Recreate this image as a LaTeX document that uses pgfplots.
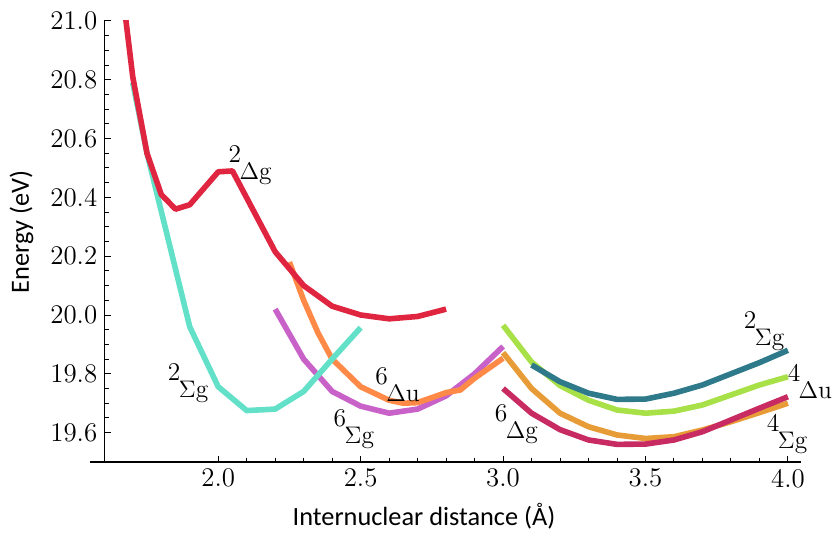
\documentclass[border=0pt]{standalone}
\usepackage{fontspec}
\newfontfamily\labelfont{Carlito}
\usepackage{pgfplots}
\pgfplotsset{compat=1.18}
\definecolor{cRed}{HTML}{E02540}
\definecolor{cCyan}{HTML}{62E0C8}
\definecolor{cOrA}{HTML}{FF8A48}
\definecolor{cMag}{HTML}{C862C8}
\definecolor{cGrn}{HTML}{A8E048}
\definecolor{cTeal}{HTML}{2F7A8A}
\definecolor{cOrB}{HTML}{E89C38}
\definecolor{cCrim}{HTML}{C82A62}
\newcommand{\lab}[2]{#1\kern-0.06em\raisebox{-0.66em}{#2}}
\begin{document}
\begin{tikzpicture}
\begin{axis}[
  scale only axis,
  width=348.5bp, height=220.5bp,
  xmin=1.6, xmax=4.047, ymin=19.5, ymax=21.0,
  axis x line*=bottom, axis y line*=left,
  axis line style={-, line width=0.6bp},
  xtick={2.0,2.5,3.0,3.5,4.0},
  ytick={19.6,19.8,20.0,20.2,20.4,20.6,20.8,21.0},
  minor x tick num=4, minor y tick num=3,
  tick align=inside,
  major tick length=3.2bp, minor tick length=2.2bp,
  tick style={line width=0.5bp, black},
  xticklabel style={/pgf/number format/.cd, fixed, precision=1, fixed zerofill, assume math mode=true},
  yticklabel style={/pgf/number format/.cd, fixed, precision=1, fixed zerofill, assume math mode=true},
  ticklabel style={font=\rmfamily\fontsize{13.5}{15}\selectfont},
  clip mode=individual,
  every axis plot/.append style={line width=2.8bp, line join=round},
]
\coordinate (BL) at (rel axis cs:-0.1496,-0.1587);
\coordinate (TR) at (rel axis cs:1.0512,1.0476);
\draw[line width=0.6bp] (rel axis cs:-0.0205,0) -- (rel axis cs:0,0);

\addplot[cMag] coordinates {(2.20,20.02) (2.30,19.85) (2.40,19.74) (2.50,19.69) (2.60,19.666) (2.70,19.68) (2.80,19.725) (2.90,19.80) (3.00,19.893)};
\addplot[cOrA] coordinates {(2.25,20.18) (2.30,20.05) (2.35,19.94) (2.40,19.85) (2.50,19.756) (2.60,19.71) (2.65,19.70) (2.70,19.702) (2.80,19.736) (2.85,19.745) (2.90,19.785) (3.00,19.853)};
\addplot[cCyan] coordinates {(1.70,20.79) (1.75,20.55) (1.90,19.96) (2.00,19.756) (2.10,19.675) (2.20,19.68) (2.30,19.74) (2.40,19.85) (2.50,19.957)};
\addplot[cRed] coordinates {(1.65,21.21) (1.70,20.81) (1.75,20.55) (1.80,20.41) (1.85,20.36) (1.90,20.375) (2.00,20.487) (2.05,20.49) (2.20,20.215) (2.30,20.10) (2.40,20.03) (2.50,20.00) (2.60,19.987) (2.70,19.995) (2.80,20.02)};
\addplot[cOrB] coordinates {(3.0,19.872) (3.1,19.75) (3.2,19.666) (3.3,19.62) (3.4,19.592) (3.5,19.58) (3.6,19.586) (3.7,19.609) (3.8,19.637) (3.9,19.668) (4.0,19.70)};
\addplot[cCrim] coordinates {(3.0,19.75) (3.1,19.666) (3.2,19.61) (3.3,19.575) (3.4,19.56) (3.5,19.561) (3.6,19.575) (3.7,19.603) (3.8,19.643) (3.9,19.683) (4.0,19.722)};
\addplot[cGrn] coordinates {(3.0,19.965) (3.1,19.84) (3.2,19.76) (3.3,19.71) (3.4,19.677) (3.5,19.666) (3.6,19.673) (3.7,19.694) (3.8,19.728) (3.9,19.762) (4.0,19.79)};
\addplot[cTeal] coordinates {(3.1,19.83) (3.2,19.773) (3.3,19.734) (3.4,19.713) (3.5,19.714) (3.6,19.734) (3.7,19.762) (3.8,19.80) (3.9,19.838) (4.0,19.88)};

\begin{scope}[every node/.style={anchor=base west, inner sep=0pt, font=\rmfamily\fontsize{12.8}{15}\selectfont}]
\node at (axis cs:2.035,20.519) {\lab{2}{$\Delta$g}};
\node at (axis cs:1.822,19.777) {\lab{2}{$\Sigma$g}};
\node at (axis cs:2.55,19.762) {\lab{6}{$\Delta$u}};
\node at (axis cs:2.404,19.62) {\lab{6}{$\Sigma$g}};
\node at (axis cs:2.97,19.637) {\lab{6}{$\Delta$g}};
\node at (axis cs:3.844,19.955) {\lab{2}{$\Sigma$g}};
\node at (axis cs:3.998,19.773) {\lab{4}{$\Delta$u}};
\node at (axis cs:3.925,19.603) {\lab{4}{$\Sigma$g}};
\end{scope}
\node[rotate=90, anchor=base, inner sep=0pt, font=\labelfont\fontsize{13.2}{15}\selectfont] at (rel axis cs:-0.108,0.5215) {Energy (eV)};
\node[anchor=base, inner sep=0pt, font=\labelfont\fontsize{13.2}{15}\selectfont] at (rel axis cs:0.4587,-0.145) {Internuclear distance (Å)};
\end{axis}
\pgfresetboundingbox
\path (BL) rectangle (TR);
\end{tikzpicture}
\end{document}
